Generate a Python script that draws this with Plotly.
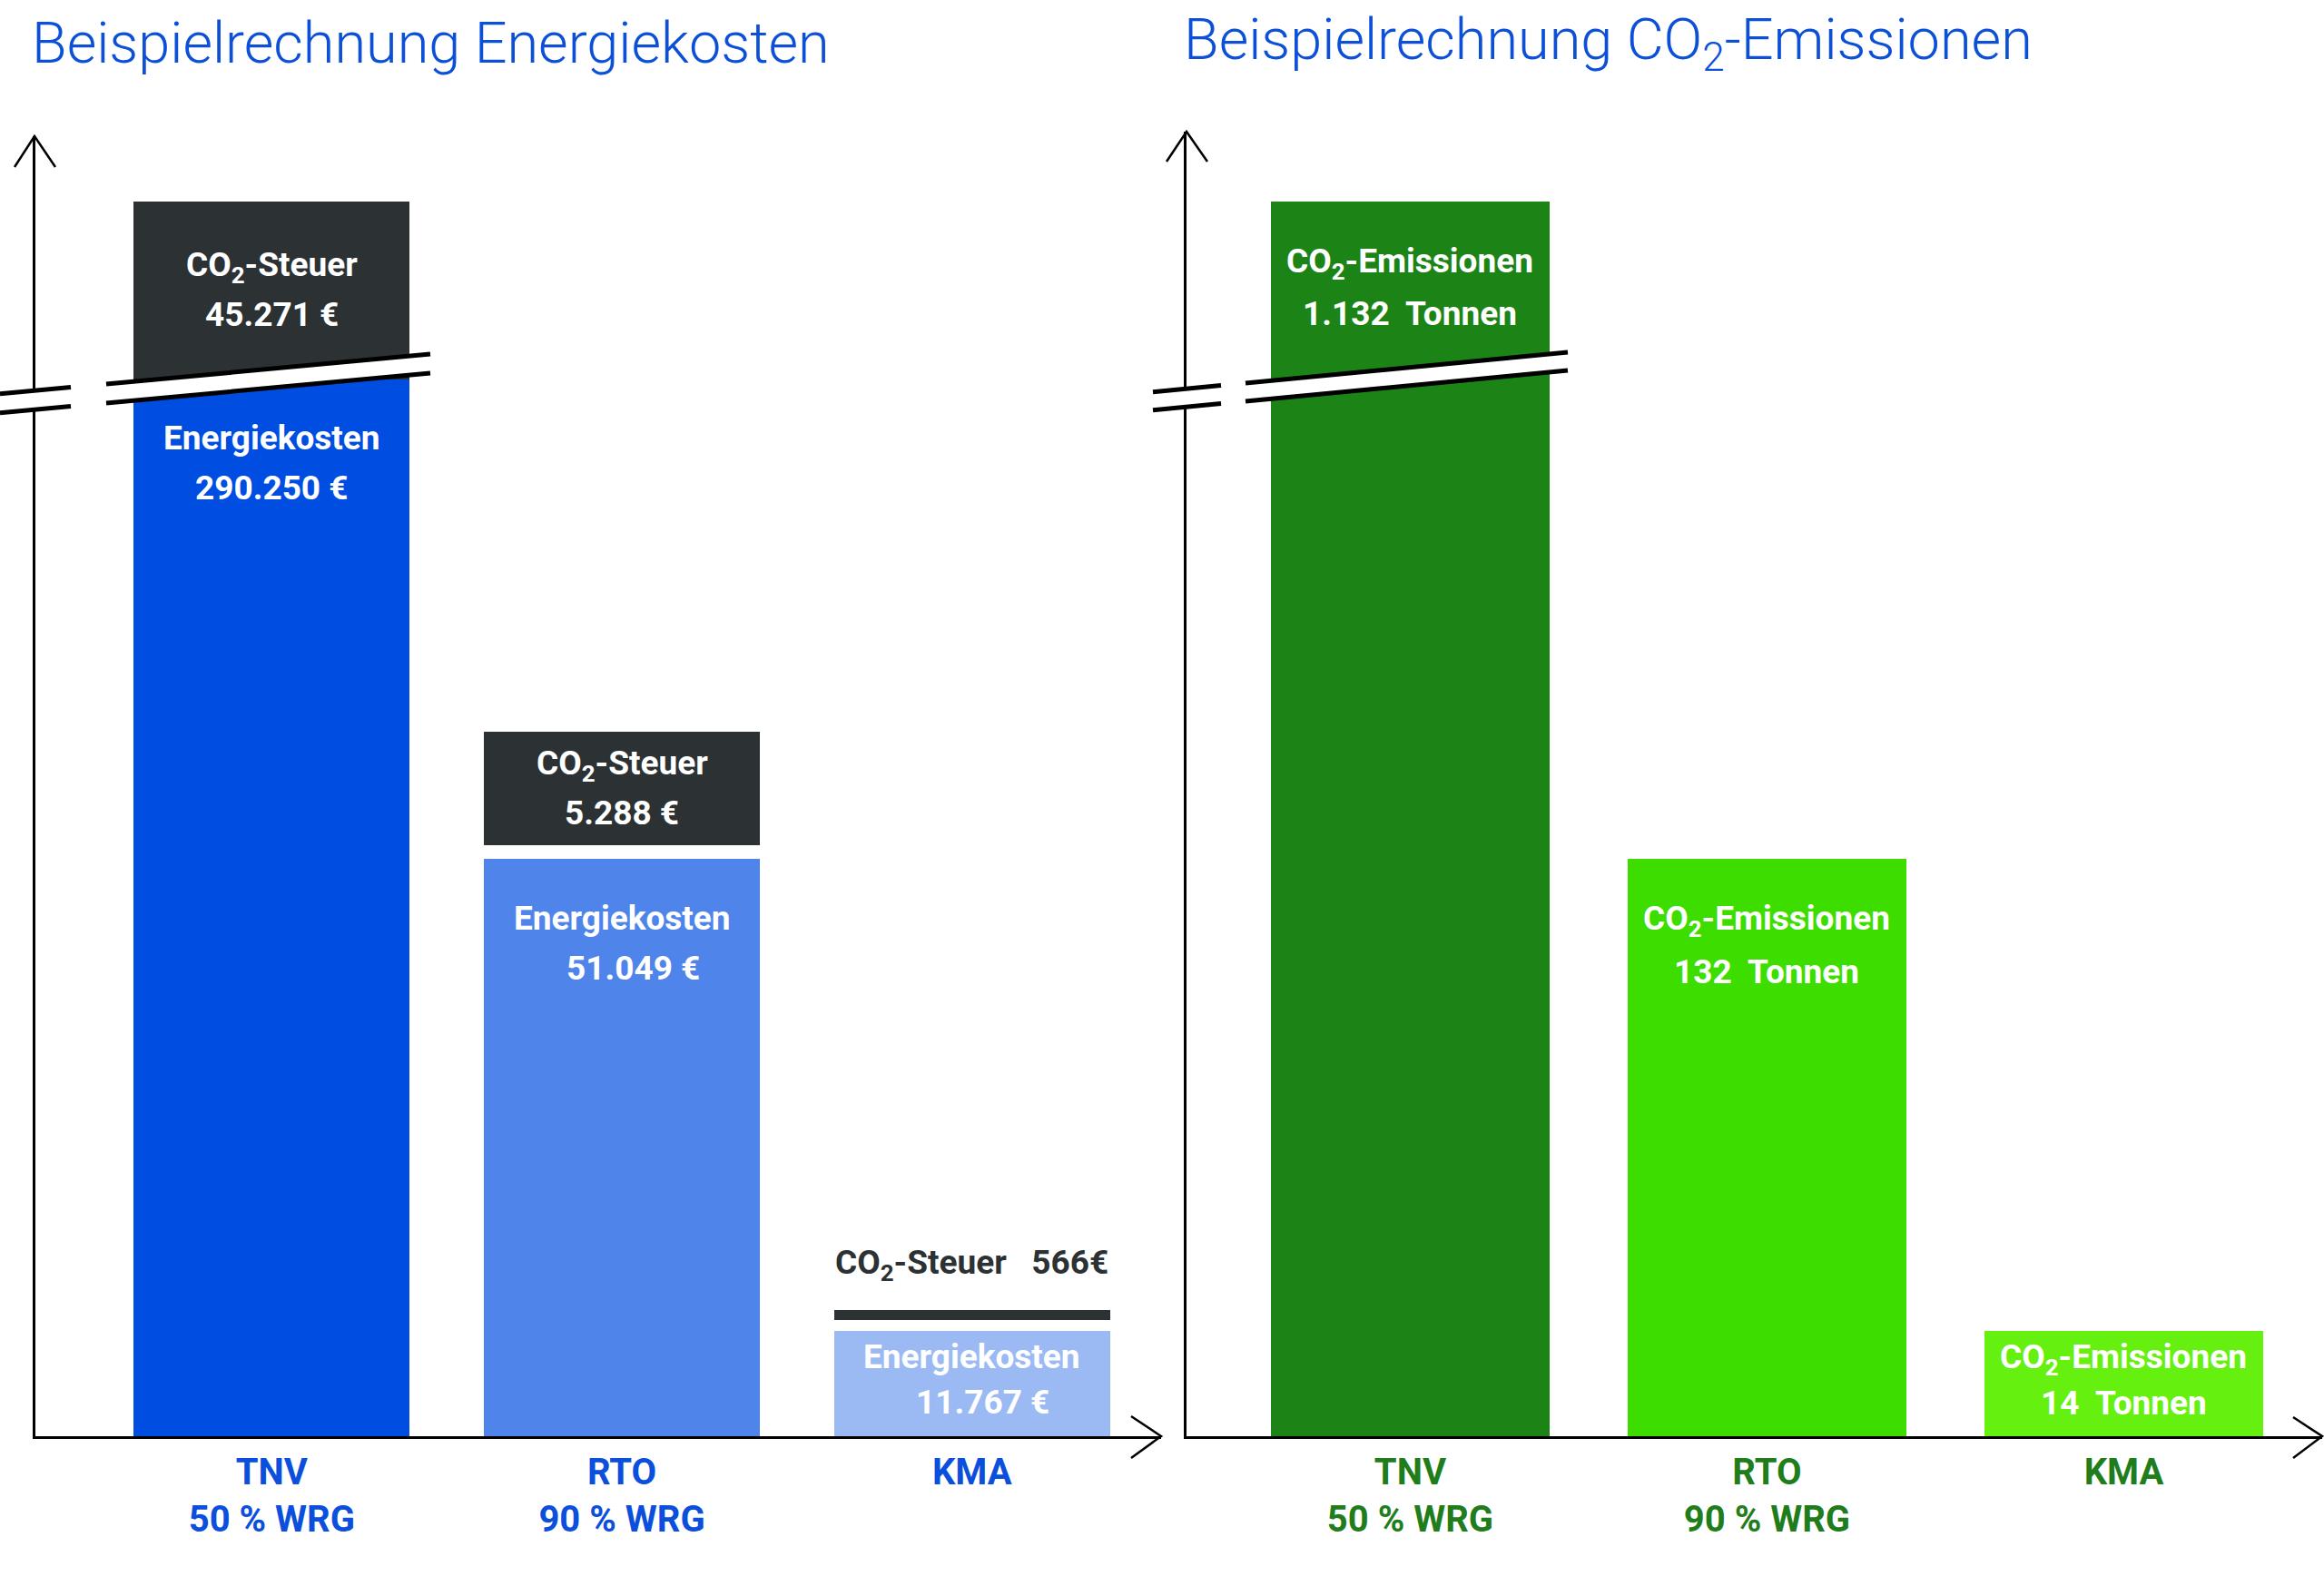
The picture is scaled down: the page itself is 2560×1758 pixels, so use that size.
import plotly.graph_objects as go

# ---------------- data ----------------
kategorien = ["TNV", "RTO", "KMA"]
kategorie_text = ["TNV<br>50 % WRG", "RTO<br>90 % WRG", "KMA"]

energiekosten_eur = [290250, 51049, 11767]
co2_steuer_eur = [45271, 5288, 566]
co2_emissionen_t = [1132, 132, 14]

# the chart is schematic (not to scale): display heights (axis = 0..100)
hoehe_energiekosten = [81.3, 44.4, 8.1]
luecke_steuer = [0.0, 1.05, 0.84]
hoehe_co2_steuer = [13.7, 8.73, 0.77]
hoehe_co2_emissionen = [95.0, 44.4, 8.1]

# ---------------- styles ----------------
W, H = 2560, 1758
FONT = "Roboto"
blau = ["#004de1", "#4f84eb", "#9bbaf4"]
dunkel = "#2c3134"
gruen = ["#1c8316", "#3ddd00", "#66f00f"]
titel_blau = "#0c50d8"
label_blau = "#0b4fdc"
label_gruen = "#1f7e1b"


def px(x):
    return x / W


def py(y):
    return 1 - y / H


def fmt(v):
    return f"{v:,}".replace(",", ".")


steuer_basis = [e + g for e, g in zip(hoehe_energiekosten, luecke_steuer)]

fig = go.Figure()

# left chart: energy costs + CO2 tax
fig.add_trace(go.Bar(x=kategorien, y=hoehe_energiekosten, base=0, width=0.788,
                     marker=dict(color=blau, line=dict(width=0)),
                     xaxis="x", yaxis="y", hoverinfo="skip", showlegend=False))
fig.add_trace(go.Bar(x=kategorien, y=hoehe_co2_steuer, base=steuer_basis, width=0.788,
                     marker=dict(color=dunkel, line=dict(width=0)),
                     xaxis="x", yaxis="y", hoverinfo="skip", showlegend=False))
# right chart: CO2 emissions
fig.add_trace(go.Bar(x=kategorien, y=hoehe_co2_emissionen, base=0, width=0.779,
                     marker=dict(color=gruen, line=dict(width=0)),
                     xaxis="x2", yaxis="y2", hoverinfo="skip", showlegend=False))

ann = []
bar_font = dict(family=FONT, size=37, color="white", weight="bold")


def offs(h):
    return (65, 120) if h > 20 else (28, 78)


# labels in the energy bars
for i, k in enumerate(kategorien):
    o1, o2 = offs(hoehe_energiekosten[i])
    ann.append(dict(x=k, y=hoehe_energiekosten[i], xref="x", yref="y", yshift=-o1,
                    text="Energiekosten", showarrow=False, font=bar_font))
    ann.append(dict(x=k, y=hoehe_energiekosten[i], xref="x", yref="y", yshift=-o2,
                    xshift=0 if i == 0 else 12,
                    text=f"{fmt(energiekosten_eur[i])} €", showarrow=False, font=bar_font))

# CO2 tax labels (inside for the first two, above for the small one)
for i, k in enumerate(kategorien):
    top = steuer_basis[i] + hoehe_co2_steuer[i]
    if hoehe_co2_steuer[i] > 5:
        mid = (steuer_basis[i] + top) / 2
        ann.append(dict(x=k, y=mid, xref="x", yref="y", yshift=26,
                        text="CO<sub>2</sub>-Steuer", showarrow=False, font=bar_font))
        ann.append(dict(x=k, y=mid, xref="x", yref="y", yshift=-27,
                        text=f"{fmt(co2_steuer_eur[i])} €", showarrow=False, font=bar_font))
    else:
        ann.append(dict(x=k, y=top, xref="x", yref="y", yshift=50,
                        text=f"CO<sub>2</sub>-Steuer\u00a0\u00a0 {fmt(co2_steuer_eur[i])}€",
                        showarrow=False, font=dict(bar_font, color=dunkel)))

# CO2 emission labels
for i, k in enumerate(kategorien):
    h = hoehe_co2_emissionen[i]
    o1, o2 = (68, 124) if h > 20 else (31, 79)
    ann.append(dict(x=k, y=h, xref="x2", yref="y2", yshift=-o1,
                    text="CO<sub>2</sub>-Emissionen", showarrow=False, font=bar_font))
    ann.append(dict(x=k, y=h, xref="x2", yref="y2", yshift=-o2,
                    text=f"{fmt(co2_emissionen_t[i])}\u00a0 Tonnen", showarrow=False, font=bar_font))

# titles
titel_font = dict(family=FONT, size=63, color=titel_blau, weight=300)
ann.append(dict(x=px(33), y=py(48), xref="paper", yref="paper", xanchor="left", yanchor="middle",
                text="Beispielrechnung Energiekosten", showarrow=False, font=titel_font))
ann.append(dict(x=px(1302), y=py(48), xref="paper", yref="paper", xanchor="left", yanchor="middle",
                text="Beispielrechnung CO<sub>2</sub>-Emissionen", showarrow=False, font=titel_font))

# ---------------- decorations: arrows and axis breaks ----------------
shapes = []


def path(pts, closed=False):
    s = "M " + " L ".join(f"{px(x):.6f},{py(y):.6f}" for x, y in pts)
    return s + (" Z" if closed else "")


arrow_line = dict(color="black", width=2.5)
for pts in ([(16, 184), (38, 150), (61, 184)],
            [(1246, 1560), (1279, 1582), (1246, 1606)],
            [(1285, 178), (1307, 145), (1330, 178)],
            [(2526, 1561), (2558, 1582), (2526, 1606)]):
    shapes.append(dict(type="path", path=path(pts), xref="paper", yref="paper",
                       line=arrow_line, layer="above"))


def bruch(x0, x1, y_at, x_ref, slope, dicke, segs):
    def yu(x):
        return y_at + slope * (x_ref - x)
    pts = [(x0, yu(x0)), (x1, yu(x1)), (x1, yu(x1) + dicke), (x0, yu(x0) + dicke)]
    shapes.append(dict(type="path", path=path(pts, True), xref="paper", yref="paper",
                       fillcolor="white", line=dict(width=0), layer="above"))
    for a, b in segs:
        for d in (0, dicke):
            shapes.append(dict(type="line", xref="paper", yref="paper",
                               x0=px(a), y0=py(yu(a) + d), x1=px(b), y1=py(yu(b) + d),
                               line=dict(color="black", width=5), layer="above"))


bruch(0, 474, 423, 117, 0.0924, 21, [(0, 78), (117, 474)])
bruch(1270, 1727, 422, 1372, 0.0958, 20, [(1270, 1345), (1372, 1727)])

tick_font_l = dict(family=FONT, size=40, color=label_blau, weight="bold")
tick_font_r = dict(family=FONT, size=40, color=label_gruen, weight="bold")

fig.update_layout(
    width=W, height=H, autosize=False,
    margin=dict(l=0, r=0, t=0, b=0, pad=0),
    paper_bgcolor="white", plot_bgcolor="white",
    barmode="overlay", bargap=0,
    annotations=ann, shapes=shapes,
    xaxis=dict(domain=[px(39), px(1279)], range=[-0.675, 2.54], type="category",
               tickvals=kategorien, ticktext=kategorie_text, tickfont=tick_font_l,
               showline=True, linecolor="black", linewidth=3, ticks="", ticklabelstandoff=2,
               showgrid=False, zeroline=False, fixedrange=True),
    yaxis=dict(domain=[py(1582), py(150)], range=[0, 100], showline=True, linecolor="black",
               linewidth=2.5, showticklabels=False, ticks="", showgrid=False, zeroline=False),
    xaxis2=dict(domain=[px(1307), px(2558)], range=[-0.627, 2.556], type="category",
                tickvals=kategorien, ticktext=kategorie_text, tickfont=tick_font_r,
                showline=True, linecolor="black", linewidth=3, ticks="", ticklabelstandoff=2,
                showgrid=False, zeroline=False, anchor="y2"),
    yaxis2=dict(domain=[py(1582), py(145)], range=[0, 100 * 1437 / 1432], showline=True,
                linecolor="black", linewidth=2.5, showticklabels=False, ticks="",
                showgrid=False, zeroline=False, anchor="x2"),
)

fig.write_html("out.html", config={"displayModeBar": False},
               post_script="document.body.style.margin='0px';")
